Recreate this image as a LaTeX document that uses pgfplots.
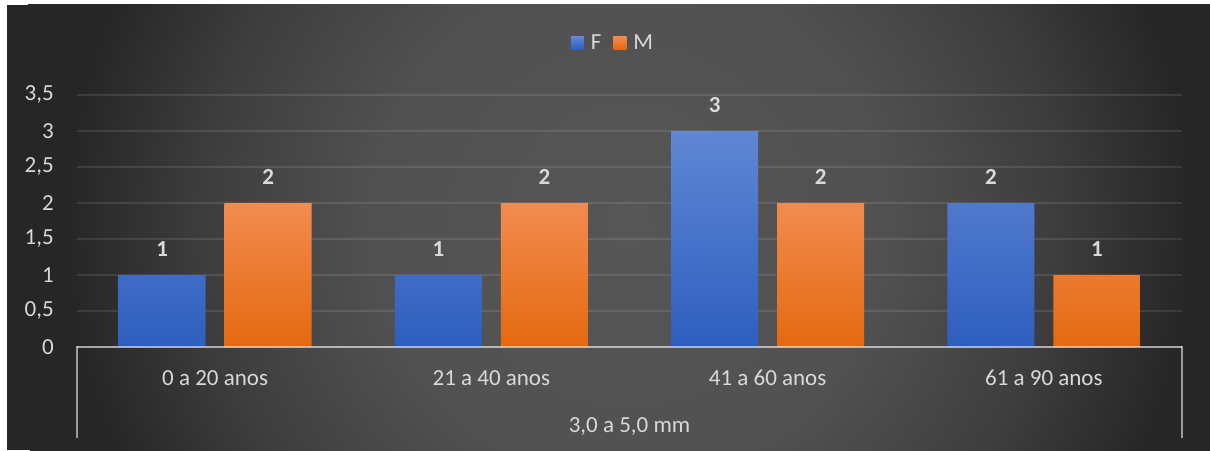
\documentclass[border=0pt]{standalone}
\usepackage{fontspec}
\setmainfont{Carlito}
\usepackage{pgfplots}
\pgfplotsset{compat=1.18}
\definecolor{bgin}{HTML}{565656}
\definecolor{bgmid}{HTML}{515151}
\definecolor{bgout}{HTML}{262626}
\definecolor{labgray}{HTML}{D9D9D9}
\definecolor{bluetop}{HTML}{5F87D4}
\definecolor{bluebot}{HTML}{2E5EBE}
\definecolor{orgtop}{HTML}{F28B50}
\definecolor{orgbot}{HTML}{E4690F}
\pgfdeclareradialshading{bgrad}{\pgfpoint{0bp}{0bp}}{color(0bp)=(bgin); color(10bp)=(bgmid); color(16.5bp)=(bgout!45!bgmid); color(22bp)=(bgout); color(50bp)=(bgout)}
\begin{document}
\begin{tikzpicture}[x=1pt,y=1pt]
\fill[white] (0,0) rectangle (1210,450);
\begin{scope}
\clip (7,0) rectangle (1210,445);
\fill[bgout] (7,0) rectangle (1210,445);
\shade[shading=bgrad] (629,225) circle (640);
\end{scope}
\begin{axis}[
  at={(77pt,103pt)}, anchor=south west,
  scale only axis, width=1105pt, height=252pt,
  xmin=-0.5, xmax=3.5, ymin=0, ymax=3.5,
  ybar=19pt, bar width=87pt,
  axis line style={draw=none},
  tick style={draw=none},
  major tick length=0pt,
  xtick={0,1,2,3},
  xticklabels={0 a 20 anos, 21 a 40 anos, 41 a 60 anos, 61 a 90 anos},
  ytick={0,0.5,1,1.5,2,2.5,3,3.5},
  /pgf/number format/use comma,
  /pgf/number format/assume math mode=true,
  yticklabel style={font=\fontsize{23}{27}\selectfont, text=labgray, inner sep=0pt, xshift=-23pt},
  xticklabel style={font=\fontsize{23}{27}\selectfont, text=labgray, inner sep=0pt, yshift=-23pt},
  ymajorgrids,
  grid style={draw=white, opacity=0.1, line width=1.5pt},
  nodes near coords,
  every node near coord/.append style={font=\fontsize{23}{27}\selectfont\bfseries, text=labgray, inner sep=0pt, anchor=south, yshift=18pt},
  legend style={at={(0.485,1.206)}, anchor=center, legend columns=2, draw=none, fill=none,
    font=\fontsize{23}{27}\selectfont, text=labgray,
    /tikz/every odd column/.append style={column sep=5pt},
    /tikz/every even column/.append style={column sep=10pt}},
  legend image code/.code={\fill[#1] (0pt,-6.5pt) rectangle (13pt,6.5pt);},
  clip=false,
]
\addplot[draw=none, top color=bluetop, bottom color=bluebot] coordinates {(0,1) (1,1) (2,3) (3,2)};
\addplot[draw=none, top color=orgtop, bottom color=orgbot] coordinates {(0,2) (1,2) (2,2) (3,1)};
\legend{F, M}
\end{axis}
\draw[white, opacity=0.55, line width=2pt] (77,103) -- (1182,103);
\draw[white, opacity=0.55, line width=2pt] (77,104) -- (77,12);
\draw[white, opacity=0.55, line width=2pt] (1182,104) -- (1182,12);
\node[anchor=base, text=labgray, font=\fontsize{23}{27}\selectfont, inner sep=0pt] at (629.5,17.5) {3,0 a 5,0 mm};
\end{tikzpicture}
\end{document}
